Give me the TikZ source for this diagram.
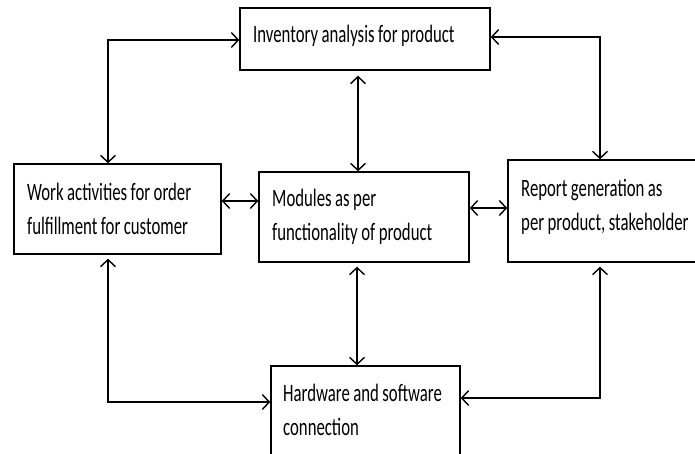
\documentclass[tikz,border=0pt]{standalone}
\usepackage{fontspec}
\setmainfont{Carlito}[FakeStretch=0.67]
\usetikzlibrary{arrows.meta}
\newcommand\boxfnt{\fontsize{25}{34}\selectfont\spaceskip=3.5pt plus 1pt\relax}
\tikzset{
  box/.style={draw, line width=1.5pt, rectangle, inner sep=0pt, anchor=center},
  txt/.style={inner sep=0pt, align=left, anchor=west, font=\boxfnt},
  dbl/.style={line width=1.4pt, {Straight Barb[length=7pt,width=15pt,line width=1.4pt]}-{Straight Barb[length=7pt,width=15pt,line width=1.4pt]}}
}
\begin{document}
\begin{tikzpicture}[x=1pt,y=-1pt]
\path[use as bounding box] (0,0) rectangle (695,453);
\clip (0,0) rectangle (695,453);
\fill[white] (0,0) rectangle (695,453);
\node[box, minimum width=250pt, minimum height=62pt] (inv) at (365,39) {};
\node[box, minimum width=207pt, minimum height=90pt] (work) at (117.5,209) {};
\node[box, minimum width=210pt, minimum height=90pt] (mid) at (364,217) {};
\node[box, minimum width=190pt, minimum height=102pt] (rep) at (603,211) {};
\node[box, minimum width=189pt, minimum height=90pt] (hw) at (365.5,411) {};
\node[txt] (invt) at (253,36) {Inventory analysis for product};
\node[txt] (workt) at (27,209) {Work activities for order\\fulfillment for customer};
\node[txt] (midt) at (272,217) {Modules as per\\functionality of product};
\node[txt] (rept) at (521,207) {Report generation as\\per product, stakeholder};
\node[txt] (hwt) at (283,410) {Hardware and software\\connection};
\draw[dbl] ([yshift=-1pt]inv.west) -| ([xshift=-9.5pt]work.north);
\draw[dbl] ([yshift=2pt]inv.east) -| ([xshift=-3pt]rep.north);
\draw[dbl, shorten <=5pt] ([xshift=-7pt]inv.south) -- ([xshift=-7pt]inv.south |- mid.north);
\draw[dbl] ([yshift=8pt]work.east) -- ([yshift=8pt]work.east -| mid.west);
\draw[dbl] ([yshift=9pt]mid.east) -- ([yshift=9pt]mid.east -| rep.west);
\draw[dbl, shorten <=4pt] ([xshift=-7pt]mid.south) -- ([xshift=-7pt]mid.south |- hw.north);
\draw[dbl, shorten <=4pt] ([xshift=-9.5pt]work.south) |- ([yshift=9pt]hw.west);
\draw[dbl, shorten <=4pt] ([xshift=-3pt]rep.south) |- ([yshift=13pt]hw.east);
\end{tikzpicture}
\end{document}
